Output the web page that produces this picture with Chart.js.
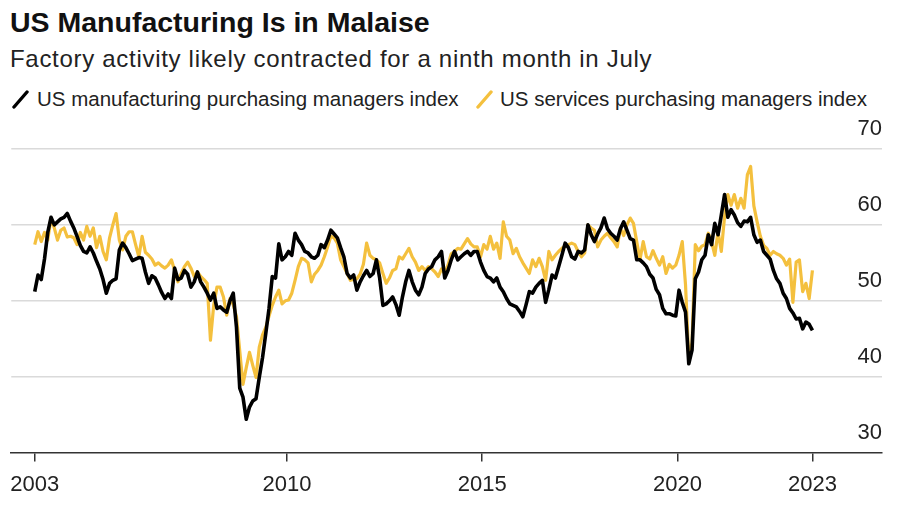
<!DOCTYPE html>
<html>
<head>
<meta charset="utf-8">
<script src="https://cdn.jsdelivr.net/npm/chart.js@4.4.1/dist/chart.umd.min.js"></script>
<style>
  body { margin: 0; background: #fff; }
  #wrap { position: relative; width: 900px; height: 510px; background: #fff;
          font-family: 'Liberation Sans', Arial, sans-serif; color: #111; }
  #title { position: absolute; left: 10px; top: 8px; font-weight: bold; font-size: 28.5px;
           line-height: 28px; white-space: nowrap; }
  #sub { position: absolute; left: 10px; top: 47px; font-size: 24px; line-height: 24px;
         letter-spacing: 0.7px; color: #222; white-space: nowrap; }
  #legend { position: absolute; left: 10px; top: 89px; font-size: 20.5px; line-height: 20.5px;
            color: #222; white-space: nowrap; }
  .item { position: absolute; top: 0; }
  .item svg { position: absolute; top: 0; }
  canvas { position: absolute; left: 0; top: 0; }
</style>
</head>
<body>
<div id="wrap">
  <div id="title">US Manufacturing Is in Malaise</div>
  <div id="sub">Factory activity likely contracted for a ninth month in July</div>
  <div id="legend"></div>
  <canvas id="chart" width="900" height="510"></canvas>
</div>
<script>
'use strict';

// ── Data ──────────────────────────────────────────────────────────────────────
// monthly readings, Jul 2003 .. Jun 2023
const startYear = 2003;
const startMonth = 7;

const seriesNames = ['US manufacturing purchasing managers index', 'US services purchasing managers index'];
const seriesColors = ['#000000', '#F4C03E'];

const manufacturing = [
  51.2, 53.4, 52.8, 55.5, 59.0, 61.0,                                   // 2003 H2
  60.0, 60.4, 60.8, 61.0, 61.5, 60.5, 59.6, 58.5, 57.3, 56.5, 56.3, 57.1, // 2004
  56.3, 55.2, 54.2, 52.8, 51.0, 52.3, 52.7, 52.9, 56.7, 57.6, 57.0, 56.2, // 2005
  55.3, 55.5, 55.7, 55.6, 53.8, 52.3, 53.3, 53.0, 52.1, 51.1, 50.3, 50.9, // 2006
  50.3, 54.3, 52.8, 53.0, 54.0, 53.5, 51.8, 52.5, 53.8, 52.5, 51.8, 51.0, // 2007
  50.1, 51.0, 49.0, 49.2, 48.8, 48.5, 50.0, 51.0, 46.5, 38.5, 37.3, 34.4, // 2008
  36.0, 36.8, 37.1, 39.9, 42.5, 45.7, 49.0, 53.2, 53.0, 57.5, 55.4, 55.8, // 2009
  56.5, 56.0, 58.9, 58.0, 57.4, 56.5, 56.3, 55.8, 55.6, 56.0, 57.4, 57.0, // 2010
  58.0, 59.3, 58.8, 58.3, 57.0, 55.8, 53.6, 53.0, 53.4, 51.4, 52.5, 53.3, // 2011
  54.0, 53.2, 53.6, 55.4, 53.0, 49.4, 49.6, 50.0, 50.5, 49.5, 48.1, 50.5, // 2012
  52.5, 54.0, 52.5, 51.4, 50.8, 51.8, 53.6, 54.2, 54.5, 55.4, 55.8, 56.5, // 2013
  53.0, 54.0, 55.4, 56.5, 55.4, 55.8, 56.2, 56.5, 56.0, 56.5, 56.5, 55.1, // 2014
  54.0, 53.2, 53.0, 52.5, 53.0, 51.8, 51.2, 50.3, 49.6, 49.4, 49.2, 48.6, // 2015
  47.9, 49.5, 51.2, 51.0, 51.8, 52.3, 52.7, 49.8, 51.5, 53.4, 53.0, 54.5, // 2016
  56.0, 57.6, 57.0, 55.8, 55.5, 56.5, 56.3, 56.7, 60.0, 58.7, 57.8, 58.8, // 2017
  59.6, 60.9, 59.5, 58.9, 58.5, 58.0, 59.5, 60.4, 59.3, 58.2, 58.0, 55.4, // 2018
  55.4, 55.0, 54.5, 53.5, 53.0, 51.5, 50.8, 49.0, 48.3, 48.3, 48.1, 48.0, // 2019
  51.4, 49.8, 48.5, 41.7, 43.5, 52.9, 53.8, 55.4, 56.0, 58.7, 57.4, 60.2, // 2020
  58.7, 61.3, 64.0, 61.0, 62.0, 61.3, 60.3, 59.8, 60.5, 60.4, 61.0, 58.7, // 2021
  57.7, 58.0, 56.5, 56.0, 55.5, 54.0, 52.9, 52.3, 51.0, 50.3, 49.0, 48.4, // 2022
  47.6, 47.7, 46.3, 47.2, 46.9, 46.1                                    // 2023 H1
];

const services = [
  57.4, 59.1, 57.8, 59.0, 58.0, 60.9,                                   // 2003 H2
  59.6, 58.0, 59.3, 59.6, 58.4, 58.5, 58.3, 57.4, 59.0, 58.0, 59.8, 58.5, // 2004
  59.6, 57.0, 58.5, 56.5, 55.4, 58.3, 60.0, 61.5, 58.0, 56.7, 58.5, 59.1, // 2005
  59.1, 57.4, 55.8, 58.5, 56.4, 56.0, 55.5, 54.7, 55.0, 54.6, 54.3, 54.7, // 2006
  55.4, 54.0, 52.5, 53.6, 54.5, 55.1, 54.3, 53.2, 53.8, 53.2, 52.8, 52.3, // 2007
  44.8, 49.4, 51.8, 51.8, 50.5, 48.1, 50.3, 49.5, 47.9, 43.4, 39.0, 41.2, // 2008
  43.2, 41.5, 39.9, 43.9, 45.5, 46.5, 48.0, 49.4, 50.5, 51.4, 49.6, 50.0, // 2009
  50.1, 51.0, 52.7, 54.5, 55.6, 55.4, 55.0, 52.5, 53.5, 54.0, 54.7, 55.8, // 2010
  57.1, 58.5, 58.3, 57.6, 55.4, 54.5, 53.6, 52.7, 52.8, 52.9, 53.5, 54.8, // 2011
  57.6, 56.0, 55.6, 55.4, 55.0, 53.6, 52.3, 53.0, 54.0, 54.2, 55.8, 55.5, // 2012
  56.2, 56.9, 55.8, 55.1, 54.0, 54.5, 54.0, 54.5, 54.2, 53.8, 53.2, 54.2, // 2013
  53.6, 54.7, 56.2, 56.5, 56.9, 56.8, 57.5, 58.2, 57.5, 57.1, 57.1, 55.8, // 2014
  57.4, 56.8, 58.5, 56.8, 57.6, 55.6, 60.4, 58.5, 58.0, 56.2, 56.9, 55.8, // 2015
  55.0, 54.3, 53.6, 55.4, 54.5, 55.6, 54.5, 52.7, 56.5, 55.4, 56.0, 56.5, // 2016
  56.9, 57.2, 57.4, 57.6, 57.4, 56.5, 55.8, 56.3, 60.0, 59.6, 59.3, 57.1, // 2017
  58.0, 58.5, 58.9, 58.3, 57.8, 57.1, 59.6, 58.6, 60.0, 60.9, 60.2, 57.8, // 2018
  55.4, 57.8, 55.8, 55.5, 56.6, 55.6, 54.7, 55.8, 53.6, 54.8, 54.3, 54.7, // 2019
  56.0, 57.8, 52.1, 42.3, 44.5, 57.4, 56.6, 57.2, 57.4, 58.9, 57.8, 56.0, // 2020
  59.1, 56.5, 61.1, 64.0, 62.6, 64.0, 62.2, 63.5, 62.2, 66.6, 67.7, 62.5, // 2021
  60.4, 58.5, 57.3, 56.9, 56.0, 56.5, 56.2, 56.0, 55.6, 54.7, 55.5, 49.8, // 2022
  55.1, 55.4, 51.2, 52.3, 50.3, 54.0                                    // 2023 H1
];

const yTicks = [30, 40, 50, 60, 70];
const xTickYears = [2010, 2015, 2020];          // inner ticks at Jan 1
const xTickLabels = ['2003', '2010', '2015', '2020', '2023'];  // ends sit on first/last month

// ── Build dates (decimal years, mid-month) ───────────────────────────────────
const dates = manufacturing.map((_, i) => {
  const m = startMonth - 1 + i;
  return startYear + Math.floor(m / 12) + ((m % 12) + 0.5) / 12;
});
const xTickVals = [dates[0], ...xTickYears, dates[dates.length - 1]];

function toPoints(values) {
  return values.map((v, i) => ({ x: dates[i], y: v }));
}

// ── Legend ────────────────────────────────────────────────────────────────────
const legendPos = [{ mark: 2, text: 27 }, { mark: 466, text: 490 }];
const legend = document.getElementById('legend');
seriesNames.forEach((name, i) => {
  const mark = document.createElement('span');
  mark.className = 'item';
  mark.style.left = legendPos[i].mark + 'px';
  mark.innerHTML = `<svg width="18" height="20" style="left:0;top:0">
    <line x1="2" y1="18" x2="15" y2="3" stroke="${seriesColors[i]}" stroke-width="3.4" stroke-linecap="round"/></svg>`;
  legend.appendChild(mark);
  const txt = document.createElement('span');
  txt.className = 'item';
  txt.style.left = legendPos[i].text + 'px';
  txt.textContent = name;
  legend.appendChild(txt);
});

// ── Chart ─────────────────────────────────────────────────────────────────────
Chart.defaults.font.family = "'Liberation Sans', Arial, sans-serif";

const ctx = document.getElementById('chart').getContext('2d');
new Chart(ctx, {
  type: 'line',
  data: {
    datasets: [
      {
        label: seriesNames[0],
        data: toPoints(manufacturing),
        borderColor: seriesColors[0],
        borderWidth: 3.6,
        pointRadius: 0,
        tension: 0,
        borderJoinStyle: 'round',
        order: 0,
      },
      {
        label: seriesNames[1],
        data: toPoints(services),
        borderColor: seriesColors[1],
        borderWidth: 3.2,
        pointRadius: 0,
        tension: 0,
        borderJoinStyle: 'round',
        order: 1,
      },
    ],
  },
  options: {
    responsive: false,
    animation: false,
    devicePixelRatio: 1,
    layout: { padding: { left: 10, right: 18, top: 149, bottom: 2 } },
    plugins: { legend: { display: false }, tooltip: { enabled: false } },
    scales: {
      x: {
        type: 'linear',
        min: 2002.94,
        max: 2025.24,
        afterBuildTicks: axis => { axis.ticks = xTickVals.map(v => ({ value: v })); },
        ticks: {
          autoSkip: false,
          maxRotation: 0,
          padding: 10,
          color: '#222',
          font: { size: 22 },
          callback: (v, i) => xTickLabels[i],
        },
        grid: { drawOnChartArea: false, drawTicks: true, tickLength: 9, color: '#333', lineWidth: 1.5 },
        border: { display: true, color: '#333', width: 1.5 },
      },
      y: {
        position: 'right',
        min: yTicks[0],
        max: yTicks[yTicks.length - 1],
        afterBuildTicks: axis => { axis.ticks = yTicks.map(v => ({ value: v })); },
        ticks: {
          mirror: true,
          padding: 0,
          labelOffset: -20,
          color: '#222',
          font: { size: 22 },
        },
        grid: {
          drawTicks: false,
          lineWidth: 1.5,
          color: c => (c.tick && c.tick.value === yTicks[0] ? 'rgba(0,0,0,0)' : '#dadada'),
        },
        border: { display: false },
      },
    },
  },
});
</script>
</body>
</html>
